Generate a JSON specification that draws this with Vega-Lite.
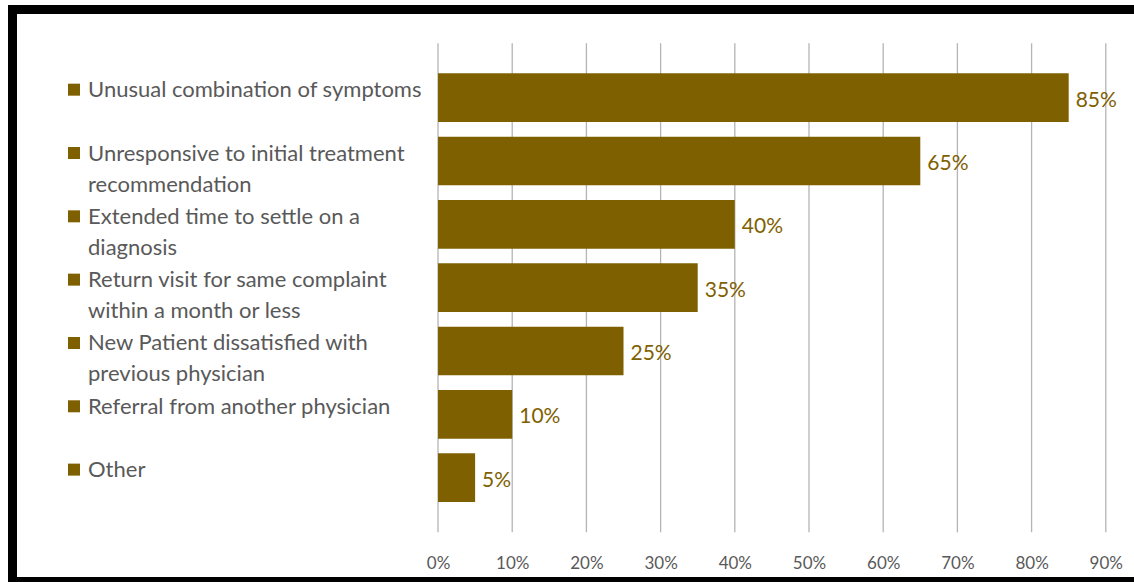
{
  "$schema": "https://vega.github.io/schema/vega-lite/v6.json",
  "autosize": {"type": "none"},
  "padding": {"left": 12.5, "top": 9.5, "right": -8, "bottom": 0.5},
  "width": 1129.5,
  "height": 572,
  "background": "white",
  "config": {
    "view": {"stroke": "black", "strokeWidth": 9, "fill": "white"},
    "font": "Lato",
    "axisX": {
      "grid": false, "ticks": false, "domain": false, "title": null,
      "labelFont": "Lato", "labelFontSize": 17, "labelColor": "#595959",
      "labelOverlap": false, "labelFlush": false, "labelPadding": -26
    }
  },
  "datasets": {
    "bars": [
      {"cat": "Unusual combination of symptoms", "v": 0.85},
      {"cat": "Unresponsive to initial treatment\nrecommendation", "v": 0.65},
      {"cat": "Extended time to settle on a\ndiagnosis", "v": 0.40},
      {"cat": "Return visit for same complaint\nwithin a month or less", "v": 0.35},
      {"cat": "New Patient dissatisfied with\nprevious physician", "v": 0.25},
      {"cat": "Referral from another physician", "v": 0.10},
      {"cat": "Other", "v": 0.05}
    ],
    "grid": [
      {"g": 0}, {"g": 0.1}, {"g": 0.2}, {"g": 0.3}, {"g": 0.4},
      {"g": 0.5}, {"g": 0.6}, {"g": 0.7}, {"g": 0.8}, {"g": 0.9}
    ]
  },
  "layer": [
    {
      "data": {"name": "grid"},
      "mark": {"type": "tick", "orient": "vertical", "size": 489, "thickness": 1.3, "color": "#B4B4B4", "opacity": 1},
      "encoding": {
        "x": {
          "field": "g", "type": "quantitative",
          "scale": {"domain": [-0.5735, 0.9488], "nice": false, "zero": false},
          "axis": {
            "values": [0, 0.1, 0.2, 0.3, 0.4, 0.5, 0.6, 0.7, 0.8, 0.9],
            "format": ".0%", "title": null
          }
        },
        "y": {
          "datum": "Return visit for same complaint\nwithin a month or less", "type": "nominal", "axis": null,
          "scale": {
            "domain": [
              "Unusual combination of symptoms",
              "Unresponsive to initial treatment\nrecommendation",
              "Extended time to settle on a\ndiagnosis",
              "Return visit for same complaint\nwithin a month or less",
              "New Patient dissatisfied with\nprevious physician",
              "Referral from another physician",
              "Other",
              " "
            ],
            "paddingInner": 0.231, "paddingOuter": 0.632, "align": 0.7975
          }
        }
      }
    },
    {
      "data": {"name": "bars"},
      "mark": {"type": "bar", "color": "#7F6000"},
      "encoding": {
        "x": {"field": "v", "type": "quantitative", "title": null},
        "y": {"field": "cat", "type": "nominal", "axis": null, "sort": null}
      }
    },
    {
      "data": {"name": "bars"},
      "mark": {"type": "text", "align": "left", "baseline": "middle", "dx": 7, "dy": 3, "fontSize": 21, "color": "#7F6000", "font": "Lato"},
      "encoding": {
        "x": {"field": "v", "type": "quantitative", "title": null},
        "y": {"field": "cat", "type": "nominal", "axis": null, "sort": null},
        "text": {"field": "v", "type": "quantitative", "format": ".0%"}
      }
    },
    {
      "data": {"name": "bars"},
      "mark": {"type": "point", "shape": "square", "filled": true, "size": 144, "color": "#7F6000", "opacity": 1, "yOffset": -8},
      "encoding": {
        "x": {"datum": -0.4906, "type": "quantitative"},
        "y": {"field": "cat", "type": "nominal", "axis": null, "sort": null}
      }
    },
    {
      "data": {"name": "bars"},
      "mark": {"type": "text", "align": "left", "baseline": "alphabetic", "dy": -0.5, "fontSize": 22, "lineHeight": 31, "lineBreak": "\n", "color": "#595959", "font": "Lato"},
      "encoding": {
        "x": {"datum": -0.4717, "type": "quantitative"},
        "y": {"field": "cat", "type": "nominal", "axis": null, "sort": null},
        "text": {"field": "cat"}
      }
    }
  ]
}
